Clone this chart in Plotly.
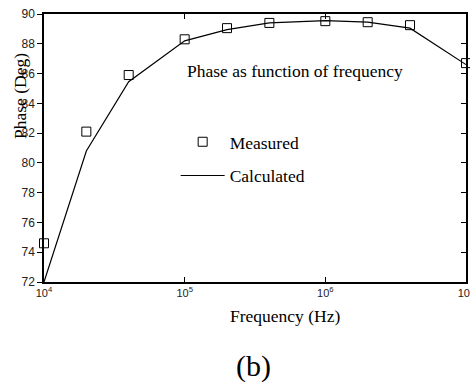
import plotly.graph_objects as go

freq_meas = [1e4, 2e4, 4e4, 1e5, 2e5, 4e5, 1e6, 2e6, 4e6, 1e7]
phase_meas = [74.6, 82.1, 85.9, 88.3, 89.05, 89.4, 89.52, 89.45, 89.25, 86.7]
freq_calc = [1e4, 2e4, 4e4, 1e5, 2e5, 4e5, 1e6, 2e6, 4e6, 1e7]
phase_calc = [72.0, 80.8, 85.45, 88.2, 88.95, 89.4, 89.55, 89.45, 89.05, 86.6]
y_ticks = [72, 74, 76, 78, 80, 82, 84, 86, 88, 90]
x_ticks = [1e4, 1e5, 1e6, 1e7]
x_tick_labels = ["10<sup>4</sup>", "10<sup>5</sup>", "10<sup>6</sup>", "10<sup>7</sup>"]

serif = "Liberation Serif, Times New Roman, serif"
sans = "Liberation Sans, Arial, sans-serif"

fig = go.Figure()
fig.add_trace(go.Scatter(
    x=freq_meas, y=phase_meas, mode="markers", name="Measured",
    marker=dict(symbol="square-open", size=9, color="black", line=dict(width=1)),
    legendgroup="m", cliponaxis=False))
fig.add_trace(go.Scatter(
    x=freq_calc, y=phase_calc, mode="lines", name="Calculated",
    line=dict(color="black", width=1.2), legendgroup="c"))
# invisible trace for right axis
fig.add_trace(go.Scatter(x=[1e4], y=[72], yaxis="y2", mode="markers",
                         marker=dict(opacity=0), showlegend=False, hoverinfo="skip"))

fig.update_layout(
    width=470, height=385,
    margin=dict(l=44, r=4, t=14, b=103),
    paper_bgcolor="white", plot_bgcolor="white",
    showlegend=True,
    legend=dict(x=0.312, y=0.59, xanchor="left", yanchor="top",
                bgcolor="rgba(0,0,0,0)", tracegroupgap=8, itemwidth=44,
                font=dict(family=serif, size=17.5, color="black")),
    xaxis=dict(type="log", range=[4, 7], tickvals=x_ticks, ticktext=x_tick_labels,
               ticks="inside", ticklen=5, tickcolor="black", showgrid=False,
               showline=True, linecolor="black", linewidth=1.5, mirror="ticks",
               zeroline=False, ticklabeloverflow="allow", automargin=False,
               tickfont=dict(family=sans, size=11, color="#222")),
    yaxis=dict(range=[72, 90], tickvals=y_ticks, ticks="outside", ticklen=5,
               tickcolor="black", showgrid=False, showline=True, linecolor="black",
               linewidth=1.5, mirror=True, zeroline=False, automargin=False,
               tickfont=dict(family=sans, size=12, color="#222")),
    yaxis2=dict(range=[72, 90], tickvals=y_ticks, overlaying="y", side="right",
                ticks="inside", ticklen=5, tickcolor="black", showticklabels=False,
                showgrid=False, zeroline=False, showline=False, automargin=False),
    annotations=[
        dict(text="Phase as function of frequency", xref="paper", yref="paper",
             x=(185 - 44) / 422, y=(282 - 71) / 268, xanchor="left", yanchor="middle",
             showarrow=False, font=dict(family=serif, size=17.5, color="black")),
        dict(text="Phase (Deg)", xref="paper", yref="paper", x=-24 / 422,
             y=(282 - 96) / 268, xanchor="center", yanchor="middle", textangle=-90,
             showarrow=False, font=dict(family=serif, size=17.5, color="black")),
        dict(text="Frequency (Hz)", xref="paper", yref="paper", x=(285 - 44) / 422,
             y=-(316 - 282) / 268, xanchor="center", yanchor="middle",
             showarrow=False, font=dict(family=serif, size=17.5, color="black")),
        dict(text="(b)", xref="paper", yref="paper", x=(253 - 44) / 422,
             y=-(366 - 282) / 268, xanchor="center", yanchor="middle",
             showarrow=False, font=dict(family=serif, size=30, color="black")),
    ],
)

fig.write_html("out.html", post_script="document.body.style.margin='0';",
               config={"displayModeBar": False})
